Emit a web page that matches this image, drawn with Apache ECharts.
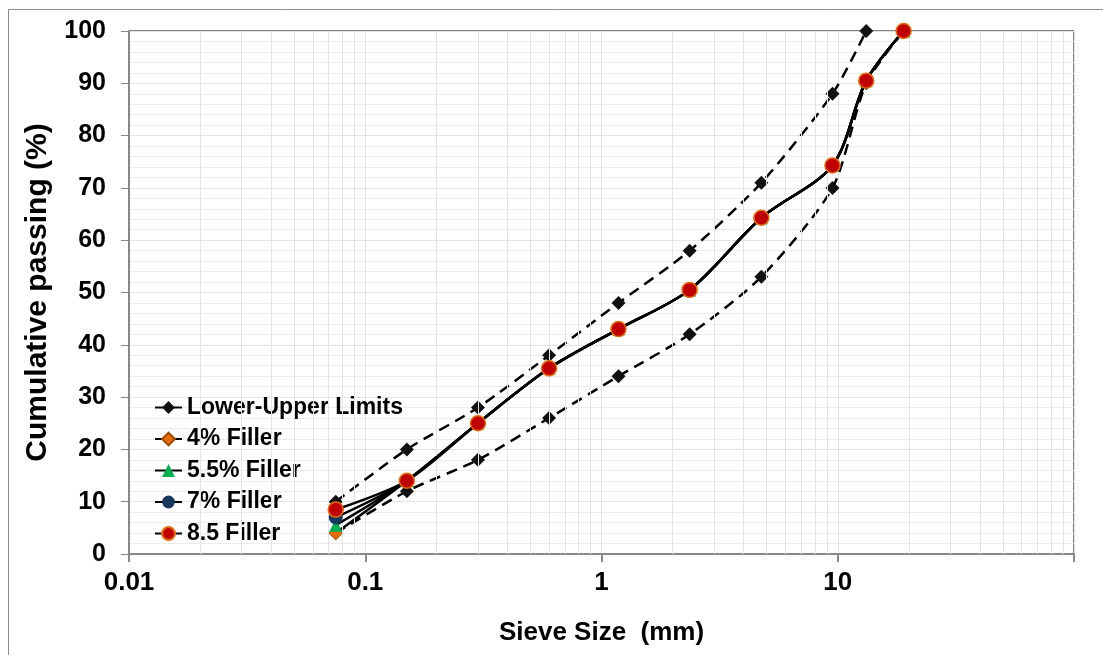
<!DOCTYPE html>
<html>
<head>
<meta charset="utf-8">
<script src="https://cdn.jsdelivr.net/npm/echarts@6/dist/echarts.min.js"></script>
<style>
html,body{margin:0;padding:0;background:#fff;}
#chart{width:1103px;height:655px;}
</style>
</head>
<body>
<div id="chart"></div>
<script>
// ---- Data ----
var sieveSizes = [0.075, 0.15, 0.3, 0.6, 1.18, 2.36, 4.75, 9.5, 13.2, 19];
var upperLimit = [10, 20, 28, 38, 48, 58, 71, 88, 100, null];
var lowerLimit = [4, 12, 18, 26, 34, 42, 53, 70, 90, 100];
var filler4   = [4, 14, 25, 35.5, 43, 50.5, 64.3, 74.3, 90.5, 100];
var filler55  = [5.5, 14, 25, 35.5, 43, 50.5, 64.3, 74.3, 90.5, 100];
var filler7   = [7, 14, 25, 35.5, 43, 50.5, 64.3, 74.3, 90.5, 100];
var filler85  = [8.5, 14, 25, 35.5, 43, 50.5, 64.3, 74.3, 90.5, 100];
var seriesNames = ['Lower-Upper Limits', '4% Filler', '5.5% Filler', '7% Filler', '8.5 Filler'];
var xTickLabels = ['0.01', '0.1', '1', '10'];
var minorGridX = [];
[0.01, 0.1, 1, 10].forEach(function (d) {
  for (var k = 2; k <= 9; k++) minorGridX.push(+(d * k).toPrecision(3));
});

function pairs(ys) {
  var out = [];
  for (var i = 0; i < sieveSizes.length; i++) {
    if (ys[i] !== null && ys[i] !== undefined) out.push([sieveSizes[i], ys[i]]);
  }
  return out;
}

var chart = echarts.init(document.getElementById('chart'));
var font = 'Liberation Sans, Arial, sans-serif';

var option = {
  animation: false,
  backgroundColor: '#fff',
  textStyle: { fontFamily: font },
  graphic: [{
    type: 'rect',
    shape: { x: 8.5, y: 9.5, width: 1120, height: 680 },
    style: { fill: 'none', stroke: '#8c8c8c', lineWidth: 1 },
    silent: true, z: -10
  }],
  grid: {
    left: 129, right: 29, top: 31, bottom: 101,
    show: true, borderColor: '#000', borderWidth: 1, backgroundColor: 'transparent'
  },
  legend: {
    data: seriesNames,
    orient: 'vertical',
    left: 154, top: 396, padding: 0,
    itemWidth: 27, itemHeight: 16, itemGap: 8.5,
    textStyle: { fontFamily: font, fontWeight: 'bold', fontSize: 23, lineHeight: 21, color: '#000' },
    lineStyle: { type: 'solid', color: '#000', width: 2 }
  },
  xAxis: {
    type: 'log', logBase: 10, min: 0.01, max: 100,
    name: 'Sieve Size  (mm)', nameLocation: 'middle', nameGap: 66,
    nameTextStyle: { fontFamily: font, fontWeight: 'bold', fontSize: 26, color: '#000' },
    axisLine: { show: true, lineStyle: { color: '#888', width: 2 } },
    axisTick: { show: true, inside: false, length: 8, lineStyle: { color: '#888', width: 2 } },
    axisLabel: {
      margin: 16, fontFamily: font, fontWeight: 'bold', fontSize: 26, color: '#000',
      formatter: function (v) {
        var s = String(+v.toPrecision(3));
        return xTickLabels.indexOf(s) >= 0 ? s : '';
      }
    },
    splitLine: { show: true, lineStyle: { color: '#e4e4e4', width: 1 } },
    minorTick: { show: false },
    minorSplitLine: { show: false }
  },
  yAxis: {
    type: 'value', min: 0, max: 100, interval: 10,
    name: 'Cumulative passing (%)', nameLocation: 'middle', nameGap: 76,
    nameTextStyle: { fontFamily: font, fontWeight: 'bold', fontSize: 30, color: '#000' },
    axisLine: { show: true, lineStyle: { color: '#888', width: 2 } },
    axisTick: { show: true, inside: false, length: 8, lineStyle: { color: '#888', width: 1 } },
    axisLabel: { margin: 23, fontFamily: font, fontWeight: 'bold', fontSize: 25, color: '#000' },
    splitLine: { show: true, lineStyle: { color: '#e4e4e4', width: 1 } },
    minorTick: { show: false, splitNumber: 5 },
    minorSplitLine: { show: true, lineStyle: { color: '#ececec', width: 1 } }
  },
  series: [
    {
      type: 'line', name: 'grid', data: [], silent: true, z: 1,
      markLine: {
        silent: true, symbol: 'none', animation: false,
        label: { show: false },
        lineStyle: { color: '#e4e4e4', type: 'solid', width: 1 },
        data: minorGridX.map(function (v) { return { xAxis: v }; })
      }
    },
    {
      type: 'line', name: 'Lower-Upper Limits', data: pairs(upperLimit), z: 3,
      smooth: 0.25, symbol: 'diamond', symbolSize: 14,
      itemStyle: { color: '#111' },
      lineStyle: { color: '#000', width: 2.5, type: [11, 7] }
    },
    {
      type: 'line', name: 'Lower-Upper Limits', data: pairs(lowerLimit), z: 3,
      smooth: 0.25, symbol: 'diamond', symbolSize: 14,
      itemStyle: { color: '#111' },
      lineStyle: { color: '#000', width: 2.5, type: [11, 7] }
    },
    {
      type: 'line', name: '4% Filler', data: pairs(filler4), z: 4,
      smooth: 0.3, symbol: 'diamond', symbolSize: 14,
      itemStyle: { color: '#E46C0A', borderColor: '#a04a00', borderWidth: 0.5 },
      lineStyle: { color: '#000', width: 2.5 }
    },
    {
      type: 'line', name: '5.5% Filler', data: pairs(filler55), z: 5,
      smooth: 0.3, symbol: 'triangle', symbolSize: 13,
      itemStyle: { color: '#00B050' },
      lineStyle: { color: '#000', width: 2.5 }
    },
    {
      type: 'line', name: '7% Filler', data: pairs(filler7), z: 6,
      smooth: 0.3, symbol: 'circle', symbolSize: 14,
      itemStyle: { color: '#17375E' },
      lineStyle: { color: '#000', width: 2.5 }
    },
    {
      type: 'line', name: '8.5 Filler', data: pairs(filler85), z: 7,
      smooth: 0.3, symbol: 'circle', symbolSize: 15,
      itemStyle: { color: '#C00000', borderColor: '#E46C0A', borderWidth: 1.5 },
      lineStyle: { color: '#000', width: 2.5 }
    }
  ]
};
chart.setOption(option);
</script>
</body>
</html>
